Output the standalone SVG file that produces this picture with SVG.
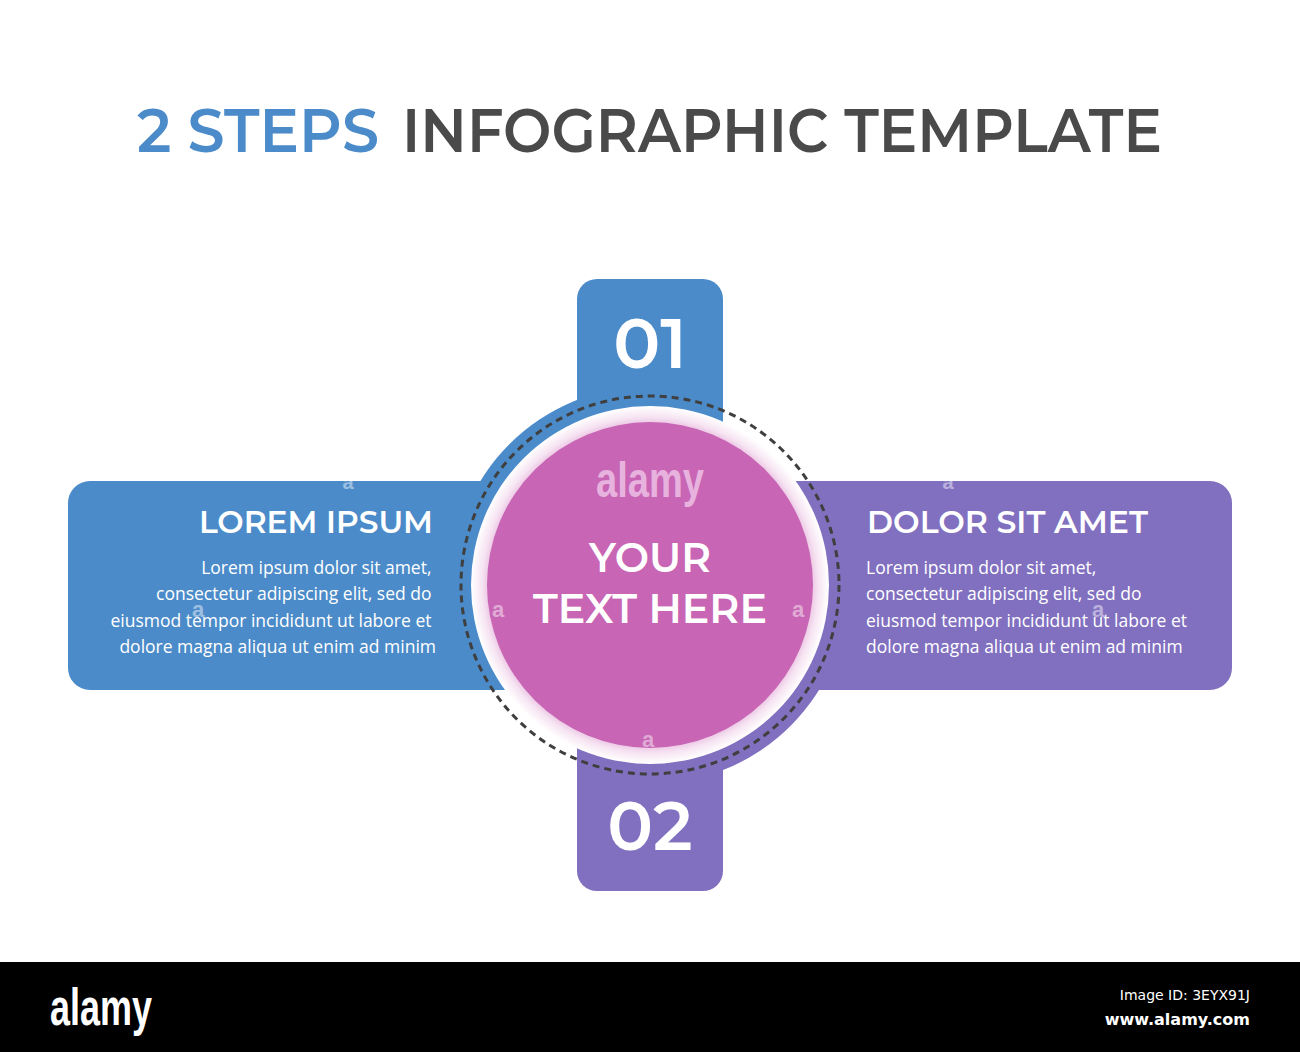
<svg xmlns="http://www.w3.org/2000/svg" width="1300" height="1052" viewBox="0 0 1300 1052">
<style>
.h{font-family:"Montserrat","Open Sans","Liberation Sans",sans-serif;font-weight:600;fill:#fff}
.b{font-family:"Open Sans","Liberation Sans",sans-serif;font-size:17.5px;fill:#fff}
.wm{font-family:"Liberation Sans",sans-serif;font-weight:bold;fill:#fff;opacity:0.45}
</style>
<defs>
<clipPath id="cBlue"><rect x="0" y="0" width="723" height="690"/></clipPath>
<clipPath id="cPurple"><rect x="577" y="481" width="723" height="600"/></clipPath>
<radialGradient id="glow" cx="650" cy="585" r="179" gradientUnits="userSpaceOnUse">
<stop offset="0.88" stop-color="#e6b3dc"/>
<stop offset="0.94" stop-color="#f6e4f2"/>
<stop offset="1" stop-color="#ffffff"/>
</radialGradient>
</defs>
<rect width="1300" height="1052" fill="#fff"/>

<g id="title">
<text x="137" y="152" font-family="Montserrat,'Open Sans','Liberation Sans',sans-serif" font-weight="600" font-size="61" fill="#4b8bc9" textLength="242" lengthAdjust="spacingAndGlyphs">2 STEPS</text>
<text x="402" y="152" font-family="Montserrat,'Open Sans','Liberation Sans',sans-serif" font-weight="600" font-size="61" fill="#4a4a4a" textLength="760" lengthAdjust="spacingAndGlyphs">INFOGRAPHIC TEMPLATE</text>
</g>

<g id="connectors"></g>

<g id="step1">
<path d="M577,500 V299 a20,20 0 0 1 20,-20 H703 a20,20 0 0 1 20,20 V500 Z" fill="#4b8bc9"/>
<path d="M560,481 H90 a22,22 0 0 0 -22,22 V668 a22,22 0 0 0 22,22 H560 Z" fill="#4b8bc9"/>
<circle cx="650" cy="585" r="199" fill="#4b8bc9" clip-path="url(#cBlue)"/>
<text x="650" y="368" text-anchor="middle" class="h" font-size="70" font-weight="700">01</text>
<text x="433" y="533" text-anchor="end" class="h" font-size="31" textLength="234" lengthAdjust="spacingAndGlyphs">LOREM IPSUM</text>
<text class="b" text-anchor="end">
<tspan x="436" y="574">Lorem ipsum dolor sit amet,</tspan>
<tspan x="436" y="600">consectetur adipiscing elit, sed do</tspan>
<tspan x="436" y="627">eiusmod tempor incididunt ut labore et</tspan>
<tspan x="436" y="653">dolore magna aliqua ut enim ad minim</tspan>
</text>
</g>

<g id="step2">
<path d="M577,680 V871 a20,20 0 0 0 20,20 H703 a20,20 0 0 0 20,-20 V680 Z" fill="#8170c0"/>
<path d="M740,481 H1210 a22,22 0 0 1 22,22 V668 a22,22 0 0 1 -22,22 H740 Z" fill="#8170c0"/>
<circle cx="650" cy="585" r="199" fill="#8170c0" clip-path="url(#cPurple)"/>
<text x="650" y="850" text-anchor="middle" class="h" font-size="68" font-weight="700">02</text>
<text x="867" y="533" class="h" font-size="31" textLength="281" lengthAdjust="spacingAndGlyphs">DOLOR SIT AMET</text>
<text class="b">
<tspan x="866" y="574">Lorem ipsum dolor sit amet,</tspan>
<tspan x="866" y="600">consectetur adipiscing elit, sed do</tspan>
<tspan x="866" y="627">eiusmod tempor incididunt ut labore et</tspan>
<tspan x="866" y="653">dolore magna aliqua ut enim ad minim</tspan>
</text>
</g>

<g id="center">
<circle cx="650" cy="585" r="189" fill="none" stroke="#3f3f3f" stroke-width="3" stroke-dasharray="7 5"/>
<circle cx="650" cy="585" r="179" fill="url(#glow)"/>
<circle cx="650" cy="585" r="163" fill="#c865b4"/>
<text x="650" y="497" text-anchor="middle" font-family="'Liberation Sans',sans-serif" font-weight="bold" font-size="50" fill="#e7b3de" textLength="108" lengthAdjust="spacingAndGlyphs">alamy</text>
<text x="650" y="572" text-anchor="middle" class="h" font-size="40" textLength="122" lengthAdjust="spacingAndGlyphs">YOUR</text>
<text x="650" y="623" text-anchor="middle" class="h" font-size="40" textLength="234" lengthAdjust="spacingAndGlyphs">TEXT HERE</text>
</g>

<g id="watermarks">
<text x="348" y="489" text-anchor="middle" class="wm" font-size="20">a</text>
<text x="948" y="489" text-anchor="middle" class="wm" font-size="20">a</text>
<text x="198" y="617" text-anchor="middle" class="wm" font-size="22">a</text>
<text x="498" y="617" text-anchor="middle" class="wm" font-size="22" fill="#f0c0e6">a</text>
<text x="798" y="617" text-anchor="middle" class="wm" font-size="22" fill="#f0c0e6">a</text>
<text x="1098" y="617" text-anchor="middle" class="wm" font-size="22">a</text>
<text x="648" y="747" text-anchor="middle" class="wm" font-size="22" fill="#f0c0e6">a</text>
</g>

<g id="footer">
<rect x="0" y="962" width="1300" height="90" fill="#000"/>
<text x="50" y="1025" font-family="'Liberation Sans',sans-serif" font-weight="bold" font-size="52" fill="#fff" textLength="102" lengthAdjust="spacingAndGlyphs">alamy</text>
<text x="1250" y="1000" text-anchor="end" font-family="'DejaVu Sans',sans-serif" font-size="14" fill="#fff">Image ID: 3EYX91J</text>
<text x="1250" y="1025" text-anchor="end" font-family="'DejaVu Sans',sans-serif" font-weight="bold" font-size="16" fill="#fff">www.alamy.com</text>
</g>
</svg>
